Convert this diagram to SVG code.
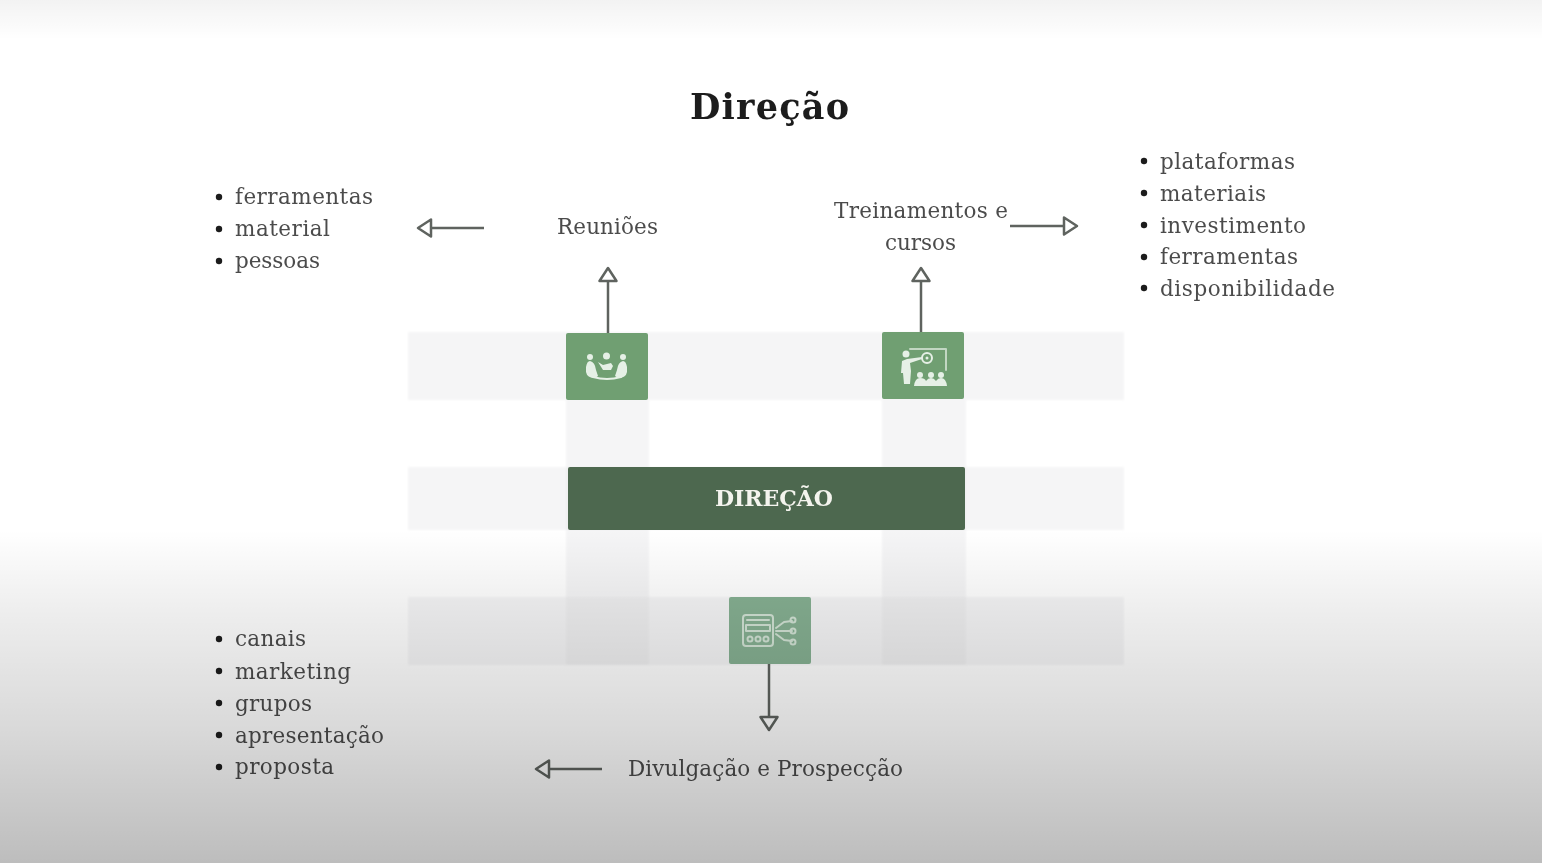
<svg xmlns="http://www.w3.org/2000/svg" width="1542" height="863" viewBox="0 0 1542 863">
<defs>
<linearGradient id="bot" x1="0" y1="0" x2="0" y2="1"><stop offset="0" stop-color="#000" stop-opacity="0"/><stop offset="0.25" stop-color="#000" stop-opacity="0.07"/><stop offset="0.6" stop-color="#000" stop-opacity="0.15"/><stop offset="1" stop-color="#000" stop-opacity="0.26"/></linearGradient>
<linearGradient id="top" x1="0" y1="0" x2="0" y2="1"><stop offset="0" stop-color="#000" stop-opacity="0.05"/><stop offset="1" stop-color="#000" stop-opacity="0"/></linearGradient>
<filter id="soft" x="-5%" y="-5%" width="110%" height="110%"><feGaussianBlur stdDeviation="0.45"/></filter>
<filter id="softer" x="-5%" y="-10%" width="110%" height="120%"><feGaussianBlur stdDeviation="1.200"/></filter>
<marker id="ah" viewBox="0 0 18 22" refX="1" refY="11" markerWidth="18" markerHeight="22" markerUnits="userSpaceOnUse" orient="auto"><path d="M2 2.500L15 11L2 19.500Z" fill="#fff" stroke="#5e635f" stroke-width="2.500" stroke-linejoin="round"/></marker>
</defs>
<style>
text{font-family:"DejaVu Serif","Liberation Serif",serif}
.t{font-size:21.500px;fill:#4c4c4c}
.band{fill:#e6e5e8;fill-opacity:.4}
.c{stroke:#5e635f;stroke-width:2.500;fill:none;marker-end:url(#ah)}
.i{fill:none;stroke:#e6f0e6;stroke-width:2;stroke-linecap:round;stroke-linejoin:round}
.f{fill:#e6f0e6}
.dot{fill:#1c1c1c}
</style>
<rect width="1542" height="863" fill="#fff"/>
<g id="bands" filter="url(#softer)">
<rect class="band" x="408" y="332" width="716" height="68"/>
<rect class="band" x="408" y="467" width="716" height="63"/>
<rect class="band" x="408" y="597" width="716" height="68"/>
<rect class="band" x="566" y="400" width="83" height="265"/>
<rect class="band" x="882" y="400" width="84" height="265"/>
</g>
<g filter="url(#soft)">
<text x="690" y="119" font-size="35" font-weight="700" fill="#1d1d1d" textLength="159">Direção</text>
<g id="connectors">
<path class="c" d="M484 228H432"/>
<path class="c" d="M608 333V282"/>
<path class="c" d="M921 333V282"/>
<path class="c" d="M1010 226H1063"/>
<path class="c" d="M769 664V716"/>
<path class="c" d="M602 769H550"/>
</g>
<g id="n-reunioes"><rect x="566" y="333" width="82" height="67" rx="2" fill="#6f9f72"/>
<circle class="f" cx="590" cy="357" r="3"/><circle class="f" cx="623" cy="357" r="3"/><circle class="f" cx="606.500" cy="356" r="3.500"/>
<path class="f" d="M586 367q1-6 4-6 5 1 6 9l2 6-3 2q-8 0-9-6zM627 367q-1-6-4-6-5 1-6 9l-2 6 3 2q8 0 9-6zM598 362l5 3 8-2 2 3-2 4h-8z"/>
<path class="i" d="M593 377q14 4 28 0" stroke-width="2.500"/></g>
<g id="n-treinamentos"><rect x="882" y="332" width="82" height="67" rx="2" fill="#6f9f72"/>
<path class="i" d="M910 349H946V370" stroke-width="1" opacity=".7"/>
<circle class="i" cx="927" cy="358" r="5"/><circle class="f" cx="927" cy="358" r="1.500"/><circle class="f" cx="906" cy="354" r="3.500"/>
<path class="f" d="M902 361l5-2 15-2v2l-12 4 1 8-1 13h-6l-1-11-2 0z"/>
<circle class="f" cx="920" cy="375" r="3"/><circle class="f" cx="931" cy="375" r="3"/><circle class="f" cx="941" cy="375" r="3"/>
<path class="f" d="M914 386q1-8 6-8t6 3q2-3 5-3t5 3q2-3 5-3 5 0 6 8z"/></g>
<g id="n-direcao"><rect x="568" y="467" width="397" height="63" rx="2" fill="#4d674f"/>
<text x="715" y="506" font-size="22" font-weight="700" fill="#f4f4ee" textLength="118">DIREÇÃO</text></g>
<g id="n-divulgacao"><rect x="729" y="597" width="82" height="67" rx="2" fill="#86b092"/>
<g opacity=".8"><rect class="i" x="743" y="615" width="30" height="31" rx="3" stroke-width="1.500"/>
<rect class="i" x="746" y="625" width="24" height="6" stroke-width="1.500"/>
<path class="i" d="M747 620H769M776 628l8-6 8-1M776 631h16M776 634l8 6 8 1" stroke-width="1.500"/>
<circle class="i" cx="750" cy="639" r="2.500" stroke-width="1.500"/><circle class="i" cx="758" cy="639" r="2.500" stroke-width="1.500"/><circle class="i" cx="766" cy="639" r="2.500" stroke-width="1.500"/>
<circle class="i" cx="793" cy="620" r="2.500" stroke-width="1.500"/><circle class="i" cx="793" cy="631" r="2.500" stroke-width="1.500"/><circle class="i" cx="793" cy="642" r="2.500" stroke-width="1.500"/></g></g>
<g id="labels">
<text class="t" x="557" y="234" textLength="101">Reuniões</text>
<text class="t" x="834" y="218" textLength="174">Treinamentos e</text>
<text class="t" x="885" y="250" textLength="71">cursos</text>
<text class="t" x="628" y="776" textLength="275">Divulgação e Prospecção</text>
</g>
<g id="list-left-top">
<circle class="dot" cx="219" cy="197" r="3.200"/><text class="t" x="235" y="204" textLength="138">ferramentas</text>
<circle class="dot" cx="219" cy="229" r="3.200"/><text class="t" x="235" y="236" textLength="95">material</text>
<circle class="dot" cx="219" cy="261" r="3.200"/><text class="t" x="235" y="268" textLength="85">pessoas</text>
</g>
<g id="list-right-top">
<circle class="dot" cx="1144" cy="161" r="3.200"/><text class="t" x="1160" y="169" textLength="135">plataformas</text>
<circle class="dot" cx="1144" cy="193" r="3.200"/><text class="t" x="1160" y="201" textLength="106">materiais</text>
<circle class="dot" cx="1144" cy="225" r="3.200"/><text class="t" x="1160" y="233" textLength="146">investimento</text>
<circle class="dot" cx="1144" cy="257" r="3.200"/><text class="t" x="1160" y="264" textLength="138">ferramentas</text>
<circle class="dot" cx="1144" cy="288" r="3.200"/><text class="t" x="1160" y="296" textLength="175">disponibilidade</text>
</g>
<g id="list-left-bottom">
<circle class="dot" cx="219" cy="639" r="3.200"/><text class="t" x="235" y="646" textLength="71">canais</text>
<circle class="dot" cx="219" cy="671" r="3.200"/><text class="t" x="235" y="679" textLength="116">marketing</text>
<circle class="dot" cx="219" cy="703" r="3.200"/><text class="t" x="235" y="711" textLength="77">grupos</text>
<circle class="dot" cx="219" cy="735" r="3.200"/><text class="t" x="235" y="743" textLength="149">apresentação</text>
<circle class="dot" cx="219" cy="767" r="3.200"/><text class="t" x="235" y="774" textLength="99">proposta</text>
</g>
</g>
<rect x="0" y="530" width="1542" height="333" fill="url(#bot)"/>
<rect x="0" y="0" width="1542" height="40" fill="url(#top)"/>
</svg>
